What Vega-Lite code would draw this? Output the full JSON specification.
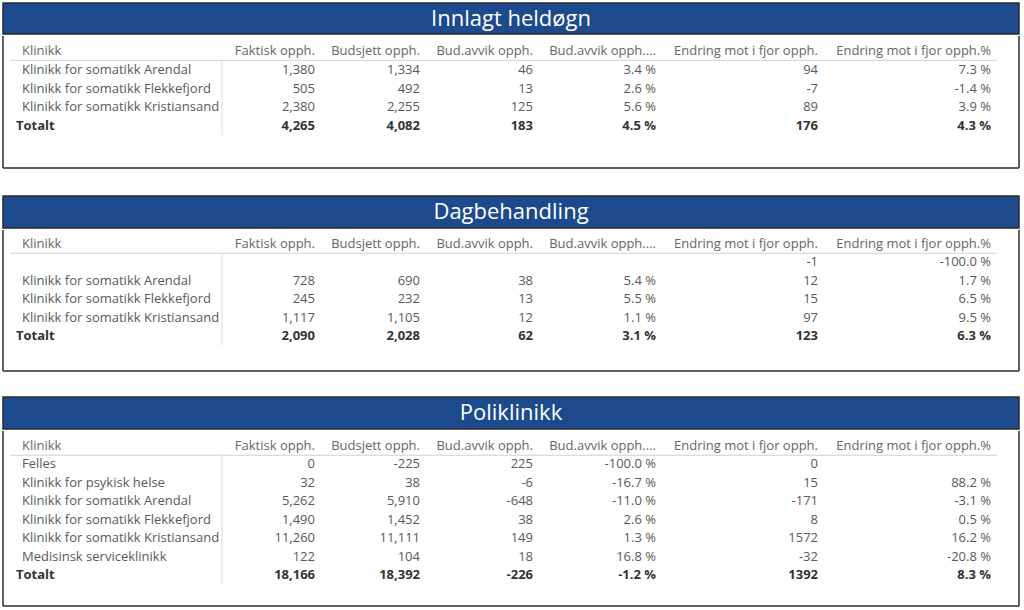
{
"$schema": "https://vega.github.io/schema/vega-lite/v6.json",
"padding": {"top": 2, "left": 2, "right": 0, "bottom": 0},
"background": "white",
"spacing": 26,
"config": {
  "view": {"stroke": null},
  "concat": {"spacing": 0},
  "text": {"font": "Open Sans", "fontSize": 13, "baseline": "middle"},
  "locale": {"number": {"decimal": ".", "thousands": ",", "grouping": [3], "currency": ["", " %"], "minus": "-"}}
},
"datasets": {
  "innlagt": [
    {"klinikk": "Klinikk for somatikk Arendal", "faktisk": 1380, "budsjett": 1334, "avvik": 46, "avvikPst": 3.4, "endring": 94, "endringPst": 7.3},
    {"klinikk": "Klinikk for somatikk Flekkefjord", "faktisk": 505, "budsjett": 492, "avvik": 13, "avvikPst": 2.6, "endring": -7, "endringPst": -1.4},
    {"klinikk": "Klinikk for somatikk Kristiansand", "faktisk": 2380, "budsjett": 2255, "avvik": 125, "avvikPst": 5.6, "endring": 89, "endringPst": 3.9},
    {"klinikk": "Totalt", "faktisk": 4265, "budsjett": 4082, "avvik": 183, "avvikPst": 4.5, "endring": 176, "endringPst": 4.3}
  ],
  "dag": [
    {"klinikk": "", "faktisk": null, "budsjett": null, "avvik": null, "avvikPst": null, "endring": -1, "endringPst": -100.0},
    {"klinikk": "Klinikk for somatikk Arendal", "faktisk": 728, "budsjett": 690, "avvik": 38, "avvikPst": 5.4, "endring": 12, "endringPst": 1.7},
    {"klinikk": "Klinikk for somatikk Flekkefjord", "faktisk": 245, "budsjett": 232, "avvik": 13, "avvikPst": 5.5, "endring": 15, "endringPst": 6.5},
    {"klinikk": "Klinikk for somatikk Kristiansand", "faktisk": 1117, "budsjett": 1105, "avvik": 12, "avvikPst": 1.1, "endring": 97, "endringPst": 9.5},
    {"klinikk": "Totalt", "faktisk": 2090, "budsjett": 2028, "avvik": 62, "avvikPst": 3.1, "endring": 123, "endringPst": 6.3}
  ],
  "poli": [
    {"klinikk": "Felles", "faktisk": 0, "budsjett": -225, "avvik": 225, "avvikPst": -100.0, "endring": 0, "endringPst": null},
    {"klinikk": "Klinikk for psykisk helse", "faktisk": 32, "budsjett": 38, "avvik": -6, "avvikPst": -16.7, "endring": 15, "endringPst": 88.2},
    {"klinikk": "Klinikk for somatikk Arendal", "faktisk": 5262, "budsjett": 5910, "avvik": -648, "avvikPst": -11.0, "endring": -171, "endringPst": -3.1},
    {"klinikk": "Klinikk for somatikk Flekkefjord", "faktisk": 1490, "budsjett": 1452, "avvik": 38, "avvikPst": 2.6, "endring": 8, "endringPst": 0.5},
    {"klinikk": "Klinikk for somatikk Kristiansand", "faktisk": 11260, "budsjett": 11111, "avvik": 149, "avvikPst": 1.3, "endring": 1572, "endringPst": 16.2},
    {"klinikk": "Medisinsk serviceklinikk", "faktisk": 122, "budsjett": 104, "avvik": 18, "avvikPst": 16.8, "endring": -32, "endringPst": -20.8},
    {"klinikk": "Totalt", "faktisk": 18166, "budsjett": 18392, "avvik": -226, "avvikPst": -1.2, "endring": 1392, "endringPst": 8.3}
  ]
},
"vconcat": [
{
  "spacing": 0,
  "vconcat": [
    {"width": 1016, "height": 31, "view": {"fill": "#1d4a8c", "stroke": "#2b2b2b", "strokeWidth": 1.5},
     "data": {"values": [{"tittel": "Innlagt heldøgn"}]},
     "mark": {"type": "text", "color": "white", "fontSize": 22},
     "encoding": {"text": {"field": "tittel"}}},
    {"spacing": 0, "bounds": "flush", "hconcat": [
      {"width": 7, "height": 132, "layer": [
        {"data": {"values": [{}]}, "mark": {"type": "rule", "color": "#2b2b2b", "strokeWidth": 1.5}, "encoding": {"x": {"value": 0}, "y": {"value": 0}, "y2": {"value": "height"}}},
        {"data": {"values": [{}]}, "mark": {"type": "rule", "color": "#2b2b2b", "strokeWidth": 1.5}, "encoding": {"y": {"value": "height"}}}
      ]},
      {"width": 212, "height": 132, "layer": [
        {"data": {"values": [{"kolonne": "Klinikk"}]}, "mark": {"type": "text", "align": "left", "dx": 12, "color": "#666666"},
         "encoding": {"x": {"value": 0}, "y": {"datum": "hdr", "type": "nominal", "scale": {"domain": ["hdr","Klinikk for somatikk Arendal","Klinikk for somatikk Flekkefjord","Klinikk for somatikk Kristiansand","Totalt"], "range": [5.6, 99.4], "paddingInner": 0, "paddingOuter": 0}, "axis": null}, "text": {"field": "kolonne"}}},
        {"data": {"name": "innlagt"}, "transform": [{"filter": "datum.klinikk !== 'Totalt'"}], "mark": {"type": "text", "align": "left", "dx": 12, "color": "#595959"},
         "encoding": {"x": {"value": 0}, "y": {"field": "klinikk", "type": "nominal", "scale": {"domain": ["hdr","Klinikk for somatikk Arendal","Klinikk for somatikk Flekkefjord","Klinikk for somatikk Kristiansand","Totalt"], "range": [5.6, 99.4], "paddingInner": 0, "paddingOuter": 0}, "axis": null}, "text": {"field": "klinikk"}}},
        {"data": {"name": "innlagt"}, "transform": [{"filter": "datum.klinikk === 'Totalt'"}], "mark": {"type": "text", "align": "left", "dx": 6, "fontWeight": "bold", "color": "#333333"},
         "encoding": {"x": {"value": 0}, "y": {"field": "klinikk", "type": "nominal", "scale": {"domain": ["hdr","Klinikk for somatikk Arendal","Klinikk for somatikk Flekkefjord","Klinikk for somatikk Kristiansand","Totalt"], "range": [5.6, 99.4], "paddingInner": 0, "paddingOuter": 0}, "axis": null}, "text": {"field": "klinikk"}}},
        {"data": {"values": [{}]}, "mark": {"type": "rule", "color": "#d0d0d0"},
         "encoding": {"y": {"datum": "hdr", "type": "nominal", "bandPosition": 1, "scale": {"domain": ["hdr","Klinikk for somatikk Arendal","Klinikk for somatikk Flekkefjord","Klinikk for somatikk Kristiansand","Totalt"], "range": [5.6, 99.4], "paddingInner": 0, "paddingOuter": 0}, "axis": null}}},
        {"data": {"values": [{}]}, "mark": {"type": "rule", "color": "#dcdcdc"},
         "encoding": {"x": {"value": "width"}, "y": {"datum": "hdr", "type": "nominal", "bandPosition": 1, "scale": {"domain": ["hdr","Klinikk for somatikk Arendal","Klinikk for somatikk Flekkefjord","Klinikk for somatikk Kristiansand","Totalt"], "range": [5.6, 99.4], "paddingInner": 0, "paddingOuter": 0}, "axis": null}, "y2": {"datum": "Totalt", "bandPosition": 1}}},
        {"data": {"values": [{}]}, "mark": {"type": "rule", "color": "#2b2b2b", "strokeWidth": 1.5}, "encoding": {"y": {"value": "height"}}}
      ]},
      {"width": 93, "height": 132, "layer": [
        {"data": {"values": [{"kolonne": "Faktisk opph."}]}, "mark": {"type": "text", "align": "right", "color": "#666666"},
         "encoding": {"x": {"value": "width"}, "y": {"datum": "hdr", "type": "nominal", "scale": {"domain": ["hdr","Klinikk for somatikk Arendal","Klinikk for somatikk Flekkefjord","Klinikk for somatikk Kristiansand","Totalt"], "range": [5.6, 99.4], "paddingInner": 0, "paddingOuter": 0}, "axis": null}, "text": {"field": "kolonne"}}},
        {"data": {"name": "innlagt"}, "transform": [{"filter": "isValid(datum.faktisk) && datum.klinikk !== 'Totalt'"}], "mark": {"type": "text", "align": "right", "color": "#595959"},
         "encoding": {"x": {"value": "width"}, "y": {"field": "klinikk", "type": "nominal", "scale": {"domain": ["hdr","Klinikk for somatikk Arendal","Klinikk for somatikk Flekkefjord","Klinikk for somatikk Kristiansand","Totalt"], "range": [5.6, 99.4], "paddingInner": 0, "paddingOuter": 0}, "axis": null}, "text": {"field": "faktisk", "format": ",d"}}},
        {"data": {"name": "innlagt"}, "transform": [{"filter": "isValid(datum.faktisk) && datum.klinikk === 'Totalt'"}], "mark": {"type": "text", "align": "right", "fontWeight": "bold", "color": "#333333"},
         "encoding": {"x": {"value": "width"}, "y": {"field": "klinikk", "type": "nominal", "scale": {"domain": ["hdr","Klinikk for somatikk Arendal","Klinikk for somatikk Flekkefjord","Klinikk for somatikk Kristiansand","Totalt"], "range": [5.6, 99.4], "paddingInner": 0, "paddingOuter": 0}, "axis": null}, "text": {"field": "faktisk", "format": ",d"}}},
        {"data": {"values": [{}]}, "mark": {"type": "rule", "color": "#d0d0d0"},
         "encoding": {"y": {"datum": "hdr", "type": "nominal", "bandPosition": 1, "scale": {"domain": ["hdr","Klinikk for somatikk Arendal","Klinikk for somatikk Flekkefjord","Klinikk for somatikk Kristiansand","Totalt"], "range": [5.6, 99.4], "paddingInner": 0, "paddingOuter": 0}, "axis": null}}},
        {"data": {"values": [{}]}, "mark": {"type": "rule", "color": "#2b2b2b", "strokeWidth": 1.5}, "encoding": {"y": {"value": "height"}}}
      ]},
      {"width": 105, "height": 132, "layer": [
        {"data": {"values": [{"kolonne": "Budsjett opph."}]}, "mark": {"type": "text", "align": "right", "color": "#666666"},
         "encoding": {"x": {"value": "width"}, "y": {"datum": "hdr", "type": "nominal", "scale": {"domain": ["hdr","Klinikk for somatikk Arendal","Klinikk for somatikk Flekkefjord","Klinikk for somatikk Kristiansand","Totalt"], "range": [5.6, 99.4], "paddingInner": 0, "paddingOuter": 0}, "axis": null}, "text": {"field": "kolonne"}}},
        {"data": {"name": "innlagt"}, "transform": [{"filter": "isValid(datum.budsjett) && datum.klinikk !== 'Totalt'"}], "mark": {"type": "text", "align": "right", "color": "#595959"},
         "encoding": {"x": {"value": "width"}, "y": {"field": "klinikk", "type": "nominal", "scale": {"domain": ["hdr","Klinikk for somatikk Arendal","Klinikk for somatikk Flekkefjord","Klinikk for somatikk Kristiansand","Totalt"], "range": [5.6, 99.4], "paddingInner": 0, "paddingOuter": 0}, "axis": null}, "text": {"field": "budsjett", "format": ",d"}}},
        {"data": {"name": "innlagt"}, "transform": [{"filter": "isValid(datum.budsjett) && datum.klinikk === 'Totalt'"}], "mark": {"type": "text", "align": "right", "fontWeight": "bold", "color": "#333333"},
         "encoding": {"x": {"value": "width"}, "y": {"field": "klinikk", "type": "nominal", "scale": {"domain": ["hdr","Klinikk for somatikk Arendal","Klinikk for somatikk Flekkefjord","Klinikk for somatikk Kristiansand","Totalt"], "range": [5.6, 99.4], "paddingInner": 0, "paddingOuter": 0}, "axis": null}, "text": {"field": "budsjett", "format": ",d"}}},
        {"data": {"values": [{}]}, "mark": {"type": "rule", "color": "#d0d0d0"},
         "encoding": {"y": {"datum": "hdr", "type": "nominal", "bandPosition": 1, "scale": {"domain": ["hdr","Klinikk for somatikk Arendal","Klinikk for somatikk Flekkefjord","Klinikk for somatikk Kristiansand","Totalt"], "range": [5.6, 99.4], "paddingInner": 0, "paddingOuter": 0}, "axis": null}}},
        {"data": {"values": [{}]}, "mark": {"type": "rule", "color": "#2b2b2b", "strokeWidth": 1.5}, "encoding": {"y": {"value": "height"}}}
      ]},
      {"width": 113, "height": 132, "layer": [
        {"data": {"values": [{"kolonne": "Bud.avvik opph."}]}, "mark": {"type": "text", "align": "right", "color": "#666666"},
         "encoding": {"x": {"value": "width"}, "y": {"datum": "hdr", "type": "nominal", "scale": {"domain": ["hdr","Klinikk for somatikk Arendal","Klinikk for somatikk Flekkefjord","Klinikk for somatikk Kristiansand","Totalt"], "range": [5.6, 99.4], "paddingInner": 0, "paddingOuter": 0}, "axis": null}, "text": {"field": "kolonne"}}},
        {"data": {"name": "innlagt"}, "transform": [{"filter": "isValid(datum.avvik) && datum.klinikk !== 'Totalt'"}], "mark": {"type": "text", "align": "right", "color": "#595959"},
         "encoding": {"x": {"value": "width"}, "y": {"field": "klinikk", "type": "nominal", "scale": {"domain": ["hdr","Klinikk for somatikk Arendal","Klinikk for somatikk Flekkefjord","Klinikk for somatikk Kristiansand","Totalt"], "range": [5.6, 99.4], "paddingInner": 0, "paddingOuter": 0}, "axis": null}, "text": {"field": "avvik", "format": ",d"}}},
        {"data": {"name": "innlagt"}, "transform": [{"filter": "isValid(datum.avvik) && datum.klinikk === 'Totalt'"}], "mark": {"type": "text", "align": "right", "fontWeight": "bold", "color": "#333333"},
         "encoding": {"x": {"value": "width"}, "y": {"field": "klinikk", "type": "nominal", "scale": {"domain": ["hdr","Klinikk for somatikk Arendal","Klinikk for somatikk Flekkefjord","Klinikk for somatikk Kristiansand","Totalt"], "range": [5.6, 99.4], "paddingInner": 0, "paddingOuter": 0}, "axis": null}, "text": {"field": "avvik", "format": ",d"}}},
        {"data": {"values": [{}]}, "mark": {"type": "rule", "color": "#d0d0d0"},
         "encoding": {"y": {"datum": "hdr", "type": "nominal", "bandPosition": 1, "scale": {"domain": ["hdr","Klinikk for somatikk Arendal","Klinikk for somatikk Flekkefjord","Klinikk for somatikk Kristiansand","Totalt"], "range": [5.6, 99.4], "paddingInner": 0, "paddingOuter": 0}, "axis": null}}},
        {"data": {"values": [{}]}, "mark": {"type": "rule", "color": "#2b2b2b", "strokeWidth": 1.5}, "encoding": {"y": {"value": "height"}}}
      ]},
      {"width": 123, "height": 132, "layer": [
        {"data": {"values": [{"kolonne": "Bud.avvik opph...."}]}, "mark": {"type": "text", "align": "right", "color": "#666666"},
         "encoding": {"x": {"value": "width"}, "y": {"datum": "hdr", "type": "nominal", "scale": {"domain": ["hdr","Klinikk for somatikk Arendal","Klinikk for somatikk Flekkefjord","Klinikk for somatikk Kristiansand","Totalt"], "range": [5.6, 99.4], "paddingInner": 0, "paddingOuter": 0}, "axis": null}, "text": {"field": "kolonne"}}},
        {"data": {"name": "innlagt"}, "transform": [{"filter": "isValid(datum.avvikPst) && datum.klinikk !== 'Totalt'"}], "mark": {"type": "text", "align": "right", "color": "#595959"},
         "encoding": {"x": {"value": "width"}, "y": {"field": "klinikk", "type": "nominal", "scale": {"domain": ["hdr","Klinikk for somatikk Arendal","Klinikk for somatikk Flekkefjord","Klinikk for somatikk Kristiansand","Totalt"], "range": [5.6, 99.4], "paddingInner": 0, "paddingOuter": 0}, "axis": null}, "text": {"field": "avvikPst", "format": "$.1f"}}},
        {"data": {"name": "innlagt"}, "transform": [{"filter": "isValid(datum.avvikPst) && datum.klinikk === 'Totalt'"}], "mark": {"type": "text", "align": "right", "fontWeight": "bold", "color": "#333333"},
         "encoding": {"x": {"value": "width"}, "y": {"field": "klinikk", "type": "nominal", "scale": {"domain": ["hdr","Klinikk for somatikk Arendal","Klinikk for somatikk Flekkefjord","Klinikk for somatikk Kristiansand","Totalt"], "range": [5.6, 99.4], "paddingInner": 0, "paddingOuter": 0}, "axis": null}, "text": {"field": "avvikPst", "format": "$.1f"}}},
        {"data": {"values": [{}]}, "mark": {"type": "rule", "color": "#d0d0d0"},
         "encoding": {"y": {"datum": "hdr", "type": "nominal", "bandPosition": 1, "scale": {"domain": ["hdr","Klinikk for somatikk Arendal","Klinikk for somatikk Flekkefjord","Klinikk for somatikk Kristiansand","Totalt"], "range": [5.6, 99.4], "paddingInner": 0, "paddingOuter": 0}, "axis": null}}},
        {"data": {"values": [{}]}, "mark": {"type": "rule", "color": "#2b2b2b", "strokeWidth": 1.5}, "encoding": {"y": {"value": "height"}}}
      ]},
      {"width": 162, "height": 132, "layer": [
        {"data": {"values": [{"kolonne": "Endring mot i fjor opph."}]}, "mark": {"type": "text", "align": "right", "color": "#666666"},
         "encoding": {"x": {"value": "width"}, "y": {"datum": "hdr", "type": "nominal", "scale": {"domain": ["hdr","Klinikk for somatikk Arendal","Klinikk for somatikk Flekkefjord","Klinikk for somatikk Kristiansand","Totalt"], "range": [5.6, 99.4], "paddingInner": 0, "paddingOuter": 0}, "axis": null}, "text": {"field": "kolonne"}}},
        {"data": {"name": "innlagt"}, "transform": [{"filter": "isValid(datum.endring) && datum.klinikk !== 'Totalt'"}], "mark": {"type": "text", "align": "right", "color": "#595959"},
         "encoding": {"x": {"value": "width"}, "y": {"field": "klinikk", "type": "nominal", "scale": {"domain": ["hdr","Klinikk for somatikk Arendal","Klinikk for somatikk Flekkefjord","Klinikk for somatikk Kristiansand","Totalt"], "range": [5.6, 99.4], "paddingInner": 0, "paddingOuter": 0}, "axis": null}, "text": {"field": "endring", "format": "d"}}},
        {"data": {"name": "innlagt"}, "transform": [{"filter": "isValid(datum.endring) && datum.klinikk === 'Totalt'"}], "mark": {"type": "text", "align": "right", "fontWeight": "bold", "color": "#333333"},
         "encoding": {"x": {"value": "width"}, "y": {"field": "klinikk", "type": "nominal", "scale": {"domain": ["hdr","Klinikk for somatikk Arendal","Klinikk for somatikk Flekkefjord","Klinikk for somatikk Kristiansand","Totalt"], "range": [5.6, 99.4], "paddingInner": 0, "paddingOuter": 0}, "axis": null}, "text": {"field": "endring", "format": "d"}}},
        {"data": {"values": [{}]}, "mark": {"type": "rule", "color": "#d0d0d0"},
         "encoding": {"y": {"datum": "hdr", "type": "nominal", "bandPosition": 1, "scale": {"domain": ["hdr","Klinikk for somatikk Arendal","Klinikk for somatikk Flekkefjord","Klinikk for somatikk Kristiansand","Totalt"], "range": [5.6, 99.4], "paddingInner": 0, "paddingOuter": 0}, "axis": null}}},
        {"data": {"values": [{}]}, "mark": {"type": "rule", "color": "#2b2b2b", "strokeWidth": 1.5}, "encoding": {"y": {"value": "height"}}}
      ]},
      {"width": 173, "height": 132, "layer": [
        {"data": {"values": [{"kolonne": "Endring mot i fjor opph.%"}]}, "mark": {"type": "text", "align": "right", "color": "#666666"},
         "encoding": {"x": {"value": "width"}, "y": {"datum": "hdr", "type": "nominal", "scale": {"domain": ["hdr","Klinikk for somatikk Arendal","Klinikk for somatikk Flekkefjord","Klinikk for somatikk Kristiansand","Totalt"], "range": [5.6, 99.4], "paddingInner": 0, "paddingOuter": 0}, "axis": null}, "text": {"field": "kolonne"}}},
        {"data": {"name": "innlagt"}, "transform": [{"filter": "isValid(datum.endringPst) && datum.klinikk !== 'Totalt'"}], "mark": {"type": "text", "align": "right", "color": "#595959"},
         "encoding": {"x": {"value": "width"}, "y": {"field": "klinikk", "type": "nominal", "scale": {"domain": ["hdr","Klinikk for somatikk Arendal","Klinikk for somatikk Flekkefjord","Klinikk for somatikk Kristiansand","Totalt"], "range": [5.6, 99.4], "paddingInner": 0, "paddingOuter": 0}, "axis": null}, "text": {"field": "endringPst", "format": "$.1f"}}},
        {"data": {"name": "innlagt"}, "transform": [{"filter": "isValid(datum.endringPst) && datum.klinikk === 'Totalt'"}], "mark": {"type": "text", "align": "right", "fontWeight": "bold", "color": "#333333"},
         "encoding": {"x": {"value": "width"}, "y": {"field": "klinikk", "type": "nominal", "scale": {"domain": ["hdr","Klinikk for somatikk Arendal","Klinikk for somatikk Flekkefjord","Klinikk for somatikk Kristiansand","Totalt"], "range": [5.6, 99.4], "paddingInner": 0, "paddingOuter": 0}, "axis": null}, "text": {"field": "endringPst", "format": "$.1f"}}},
        {"data": {"values": [{}]}, "mark": {"type": "rule", "color": "#d0d0d0"},
         "encoding": {"y": {"datum": "hdr", "type": "nominal", "bandPosition": 1, "scale": {"domain": ["hdr","Klinikk for somatikk Arendal","Klinikk for somatikk Flekkefjord","Klinikk for somatikk Kristiansand","Totalt"], "range": [5.6, 99.4], "paddingInner": 0, "paddingOuter": 0}, "axis": null}}},
        {"data": {"values": [{}]}, "mark": {"type": "rule", "color": "#2b2b2b", "strokeWidth": 1.5}, "encoding": {"y": {"value": "height"}}}
      ]},
      {"width": 6, "height": 132, "layer": [
        {"data": {"values": [{}]}, "mark": {"type": "rule", "color": "#d0d0d0"},
         "encoding": {"y": {"datum": "hdr", "type": "nominal", "bandPosition": 1, "scale": {"domain": ["hdr","Klinikk for somatikk Arendal","Klinikk for somatikk Flekkefjord","Klinikk for somatikk Kristiansand","Totalt"], "range": [5.6, 99.4], "paddingInner": 0, "paddingOuter": 0}, "axis": null}}},
        {"data": {"values": [{}]}, "mark": {"type": "rule", "color": "#2b2b2b", "strokeWidth": 1.5}, "encoding": {"y": {"value": "height"}}}
      ]},
      {"width": 22, "height": 132, "layer": [
        {"data": {"values": [{}]}, "mark": {"type": "rule", "color": "#2b2b2b", "strokeWidth": 1.5}, "encoding": {"y": {"value": "height"}}},
        {"data": {"values": [{}]}, "mark": {"type": "rule", "color": "#2b2b2b", "strokeWidth": 1.5}, "encoding": {"x": {"value": "width"}, "y": {"value": 0}, "y2": {"value": "height"}}}
      ]}
    ]}
  ]
},
{
 "spacing": 24,
 "vconcat": [
{
  "spacing": 0,
  "vconcat": [
    {"width": 1016, "height": 32, "view": {"fill": "#1d4a8c", "stroke": "#2b2b2b", "strokeWidth": 1.5},
     "data": {"values": [{"tittel": "Dagbehandling"}]},
     "mark": {"type": "text", "color": "white", "fontSize": 22},
     "encoding": {"text": {"field": "tittel"}}},
    {"spacing": 0, "bounds": "flush", "hconcat": [
      {"width": 7, "height": 141, "layer": [
        {"data": {"values": [{}]}, "mark": {"type": "rule", "color": "#2b2b2b", "strokeWidth": 1.5}, "encoding": {"x": {"value": 0}, "y": {"value": 0}, "y2": {"value": "height"}}},
        {"data": {"values": [{}]}, "mark": {"type": "rule", "color": "#2b2b2b", "strokeWidth": 1.5}, "encoding": {"y": {"value": "height"}}}
      ]},
      {"width": 212, "height": 141, "layer": [
        {"data": {"values": [{"kolonne": "Klinikk"}]}, "mark": {"type": "text", "align": "left", "dx": 12, "color": "#666666"},
         "encoding": {"x": {"value": 0}, "y": {"datum": "hdr", "type": "nominal", "scale": {"domain": ["hdr","","Klinikk for somatikk Arendal","Klinikk for somatikk Flekkefjord","Klinikk for somatikk Kristiansand","Totalt"], "range": [4.8, 115.2], "paddingInner": 0, "paddingOuter": 0}, "axis": null}, "text": {"field": "kolonne"}}},
        {"data": {"name": "dag"}, "transform": [{"filter": "datum.klinikk !== 'Totalt'"}], "mark": {"type": "text", "align": "left", "dx": 12, "color": "#595959"},
         "encoding": {"x": {"value": 0}, "y": {"field": "klinikk", "type": "nominal", "scale": {"domain": ["hdr","","Klinikk for somatikk Arendal","Klinikk for somatikk Flekkefjord","Klinikk for somatikk Kristiansand","Totalt"], "range": [4.8, 115.2], "paddingInner": 0, "paddingOuter": 0}, "axis": null}, "text": {"field": "klinikk"}}},
        {"data": {"name": "dag"}, "transform": [{"filter": "datum.klinikk === 'Totalt'"}], "mark": {"type": "text", "align": "left", "dx": 6, "fontWeight": "bold", "color": "#333333"},
         "encoding": {"x": {"value": 0}, "y": {"field": "klinikk", "type": "nominal", "scale": {"domain": ["hdr","","Klinikk for somatikk Arendal","Klinikk for somatikk Flekkefjord","Klinikk for somatikk Kristiansand","Totalt"], "range": [4.8, 115.2], "paddingInner": 0, "paddingOuter": 0}, "axis": null}, "text": {"field": "klinikk"}}},
        {"data": {"values": [{}]}, "mark": {"type": "rule", "color": "#d0d0d0"},
         "encoding": {"y": {"datum": "hdr", "type": "nominal", "bandPosition": 1, "scale": {"domain": ["hdr","","Klinikk for somatikk Arendal","Klinikk for somatikk Flekkefjord","Klinikk for somatikk Kristiansand","Totalt"], "range": [4.8, 115.2], "paddingInner": 0, "paddingOuter": 0}, "axis": null}}},
        {"data": {"values": [{}]}, "mark": {"type": "rule", "color": "#dcdcdc"},
         "encoding": {"x": {"value": "width"}, "y": {"datum": "hdr", "type": "nominal", "bandPosition": 1, "scale": {"domain": ["hdr","","Klinikk for somatikk Arendal","Klinikk for somatikk Flekkefjord","Klinikk for somatikk Kristiansand","Totalt"], "range": [4.8, 115.2], "paddingInner": 0, "paddingOuter": 0}, "axis": null}, "y2": {"datum": "Totalt", "bandPosition": 1}}},
        {"data": {"values": [{}]}, "mark": {"type": "rule", "color": "#2b2b2b", "strokeWidth": 1.5}, "encoding": {"y": {"value": "height"}}}
      ]},
      {"width": 93, "height": 141, "layer": [
        {"data": {"values": [{"kolonne": "Faktisk opph."}]}, "mark": {"type": "text", "align": "right", "color": "#666666"},
         "encoding": {"x": {"value": "width"}, "y": {"datum": "hdr", "type": "nominal", "scale": {"domain": ["hdr","","Klinikk for somatikk Arendal","Klinikk for somatikk Flekkefjord","Klinikk for somatikk Kristiansand","Totalt"], "range": [4.8, 115.2], "paddingInner": 0, "paddingOuter": 0}, "axis": null}, "text": {"field": "kolonne"}}},
        {"data": {"name": "dag"}, "transform": [{"filter": "isValid(datum.faktisk) && datum.klinikk !== 'Totalt'"}], "mark": {"type": "text", "align": "right", "color": "#595959"},
         "encoding": {"x": {"value": "width"}, "y": {"field": "klinikk", "type": "nominal", "scale": {"domain": ["hdr","","Klinikk for somatikk Arendal","Klinikk for somatikk Flekkefjord","Klinikk for somatikk Kristiansand","Totalt"], "range": [4.8, 115.2], "paddingInner": 0, "paddingOuter": 0}, "axis": null}, "text": {"field": "faktisk", "format": ",d"}}},
        {"data": {"name": "dag"}, "transform": [{"filter": "isValid(datum.faktisk) && datum.klinikk === 'Totalt'"}], "mark": {"type": "text", "align": "right", "fontWeight": "bold", "color": "#333333"},
         "encoding": {"x": {"value": "width"}, "y": {"field": "klinikk", "type": "nominal", "scale": {"domain": ["hdr","","Klinikk for somatikk Arendal","Klinikk for somatikk Flekkefjord","Klinikk for somatikk Kristiansand","Totalt"], "range": [4.8, 115.2], "paddingInner": 0, "paddingOuter": 0}, "axis": null}, "text": {"field": "faktisk", "format": ",d"}}},
        {"data": {"values": [{}]}, "mark": {"type": "rule", "color": "#d0d0d0"},
         "encoding": {"y": {"datum": "hdr", "type": "nominal", "bandPosition": 1, "scale": {"domain": ["hdr","","Klinikk for somatikk Arendal","Klinikk for somatikk Flekkefjord","Klinikk for somatikk Kristiansand","Totalt"], "range": [4.8, 115.2], "paddingInner": 0, "paddingOuter": 0}, "axis": null}}},
        {"data": {"values": [{}]}, "mark": {"type": "rule", "color": "#2b2b2b", "strokeWidth": 1.5}, "encoding": {"y": {"value": "height"}}}
      ]},
      {"width": 105, "height": 141, "layer": [
        {"data": {"values": [{"kolonne": "Budsjett opph."}]}, "mark": {"type": "text", "align": "right", "color": "#666666"},
         "encoding": {"x": {"value": "width"}, "y": {"datum": "hdr", "type": "nominal", "scale": {"domain": ["hdr","","Klinikk for somatikk Arendal","Klinikk for somatikk Flekkefjord","Klinikk for somatikk Kristiansand","Totalt"], "range": [4.8, 115.2], "paddingInner": 0, "paddingOuter": 0}, "axis": null}, "text": {"field": "kolonne"}}},
        {"data": {"name": "dag"}, "transform": [{"filter": "isValid(datum.budsjett) && datum.klinikk !== 'Totalt'"}], "mark": {"type": "text", "align": "right", "color": "#595959"},
         "encoding": {"x": {"value": "width"}, "y": {"field": "klinikk", "type": "nominal", "scale": {"domain": ["hdr","","Klinikk for somatikk Arendal","Klinikk for somatikk Flekkefjord","Klinikk for somatikk Kristiansand","Totalt"], "range": [4.8, 115.2], "paddingInner": 0, "paddingOuter": 0}, "axis": null}, "text": {"field": "budsjett", "format": ",d"}}},
        {"data": {"name": "dag"}, "transform": [{"filter": "isValid(datum.budsjett) && datum.klinikk === 'Totalt'"}], "mark": {"type": "text", "align": "right", "fontWeight": "bold", "color": "#333333"},
         "encoding": {"x": {"value": "width"}, "y": {"field": "klinikk", "type": "nominal", "scale": {"domain": ["hdr","","Klinikk for somatikk Arendal","Klinikk for somatikk Flekkefjord","Klinikk for somatikk Kristiansand","Totalt"], "range": [4.8, 115.2], "paddingInner": 0, "paddingOuter": 0}, "axis": null}, "text": {"field": "budsjett", "format": ",d"}}},
        {"data": {"values": [{}]}, "mark": {"type": "rule", "color": "#d0d0d0"},
         "encoding": {"y": {"datum": "hdr", "type": "nominal", "bandPosition": 1, "scale": {"domain": ["hdr","","Klinikk for somatikk Arendal","Klinikk for somatikk Flekkefjord","Klinikk for somatikk Kristiansand","Totalt"], "range": [4.8, 115.2], "paddingInner": 0, "paddingOuter": 0}, "axis": null}}},
        {"data": {"values": [{}]}, "mark": {"type": "rule", "color": "#2b2b2b", "strokeWidth": 1.5}, "encoding": {"y": {"value": "height"}}}
      ]},
      {"width": 113, "height": 141, "layer": [
        {"data": {"values": [{"kolonne": "Bud.avvik opph."}]}, "mark": {"type": "text", "align": "right", "color": "#666666"},
         "encoding": {"x": {"value": "width"}, "y": {"datum": "hdr", "type": "nominal", "scale": {"domain": ["hdr","","Klinikk for somatikk Arendal","Klinikk for somatikk Flekkefjord","Klinikk for somatikk Kristiansand","Totalt"], "range": [4.8, 115.2], "paddingInner": 0, "paddingOuter": 0}, "axis": null}, "text": {"field": "kolonne"}}},
        {"data": {"name": "dag"}, "transform": [{"filter": "isValid(datum.avvik) && datum.klinikk !== 'Totalt'"}], "mark": {"type": "text", "align": "right", "color": "#595959"},
         "encoding": {"x": {"value": "width"}, "y": {"field": "klinikk", "type": "nominal", "scale": {"domain": ["hdr","","Klinikk for somatikk Arendal","Klinikk for somatikk Flekkefjord","Klinikk for somatikk Kristiansand","Totalt"], "range": [4.8, 115.2], "paddingInner": 0, "paddingOuter": 0}, "axis": null}, "text": {"field": "avvik", "format": ",d"}}},
        {"data": {"name": "dag"}, "transform": [{"filter": "isValid(datum.avvik) && datum.klinikk === 'Totalt'"}], "mark": {"type": "text", "align": "right", "fontWeight": "bold", "color": "#333333"},
         "encoding": {"x": {"value": "width"}, "y": {"field": "klinikk", "type": "nominal", "scale": {"domain": ["hdr","","Klinikk for somatikk Arendal","Klinikk for somatikk Flekkefjord","Klinikk for somatikk Kristiansand","Totalt"], "range": [4.8, 115.2], "paddingInner": 0, "paddingOuter": 0}, "axis": null}, "text": {"field": "avvik", "format": ",d"}}},
        {"data": {"values": [{}]}, "mark": {"type": "rule", "color": "#d0d0d0"},
         "encoding": {"y": {"datum": "hdr", "type": "nominal", "bandPosition": 1, "scale": {"domain": ["hdr","","Klinikk for somatikk Arendal","Klinikk for somatikk Flekkefjord","Klinikk for somatikk Kristiansand","Totalt"], "range": [4.8, 115.2], "paddingInner": 0, "paddingOuter": 0}, "axis": null}}},
        {"data": {"values": [{}]}, "mark": {"type": "rule", "color": "#2b2b2b", "strokeWidth": 1.5}, "encoding": {"y": {"value": "height"}}}
      ]},
      {"width": 123, "height": 141, "layer": [
        {"data": {"values": [{"kolonne": "Bud.avvik opph...."}]}, "mark": {"type": "text", "align": "right", "color": "#666666"},
         "encoding": {"x": {"value": "width"}, "y": {"datum": "hdr", "type": "nominal", "scale": {"domain": ["hdr","","Klinikk for somatikk Arendal","Klinikk for somatikk Flekkefjord","Klinikk for somatikk Kristiansand","Totalt"], "range": [4.8, 115.2], "paddingInner": 0, "paddingOuter": 0}, "axis": null}, "text": {"field": "kolonne"}}},
        {"data": {"name": "dag"}, "transform": [{"filter": "isValid(datum.avvikPst) && datum.klinikk !== 'Totalt'"}], "mark": {"type": "text", "align": "right", "color": "#595959"},
         "encoding": {"x": {"value": "width"}, "y": {"field": "klinikk", "type": "nominal", "scale": {"domain": ["hdr","","Klinikk for somatikk Arendal","Klinikk for somatikk Flekkefjord","Klinikk for somatikk Kristiansand","Totalt"], "range": [4.8, 115.2], "paddingInner": 0, "paddingOuter": 0}, "axis": null}, "text": {"field": "avvikPst", "format": "$.1f"}}},
        {"data": {"name": "dag"}, "transform": [{"filter": "isValid(datum.avvikPst) && datum.klinikk === 'Totalt'"}], "mark": {"type": "text", "align": "right", "fontWeight": "bold", "color": "#333333"},
         "encoding": {"x": {"value": "width"}, "y": {"field": "klinikk", "type": "nominal", "scale": {"domain": ["hdr","","Klinikk for somatikk Arendal","Klinikk for somatikk Flekkefjord","Klinikk for somatikk Kristiansand","Totalt"], "range": [4.8, 115.2], "paddingInner": 0, "paddingOuter": 0}, "axis": null}, "text": {"field": "avvikPst", "format": "$.1f"}}},
        {"data": {"values": [{}]}, "mark": {"type": "rule", "color": "#d0d0d0"},
         "encoding": {"y": {"datum": "hdr", "type": "nominal", "bandPosition": 1, "scale": {"domain": ["hdr","","Klinikk for somatikk Arendal","Klinikk for somatikk Flekkefjord","Klinikk for somatikk Kristiansand","Totalt"], "range": [4.8, 115.2], "paddingInner": 0, "paddingOuter": 0}, "axis": null}}},
        {"data": {"values": [{}]}, "mark": {"type": "rule", "color": "#2b2b2b", "strokeWidth": 1.5}, "encoding": {"y": {"value": "height"}}}
      ]},
      {"width": 162, "height": 141, "layer": [
        {"data": {"values": [{"kolonne": "Endring mot i fjor opph."}]}, "mark": {"type": "text", "align": "right", "color": "#666666"},
         "encoding": {"x": {"value": "width"}, "y": {"datum": "hdr", "type": "nominal", "scale": {"domain": ["hdr","","Klinikk for somatikk Arendal","Klinikk for somatikk Flekkefjord","Klinikk for somatikk Kristiansand","Totalt"], "range": [4.8, 115.2], "paddingInner": 0, "paddingOuter": 0}, "axis": null}, "text": {"field": "kolonne"}}},
        {"data": {"name": "dag"}, "transform": [{"filter": "isValid(datum.endring) && datum.klinikk !== 'Totalt'"}], "mark": {"type": "text", "align": "right", "color": "#595959"},
         "encoding": {"x": {"value": "width"}, "y": {"field": "klinikk", "type": "nominal", "scale": {"domain": ["hdr","","Klinikk for somatikk Arendal","Klinikk for somatikk Flekkefjord","Klinikk for somatikk Kristiansand","Totalt"], "range": [4.8, 115.2], "paddingInner": 0, "paddingOuter": 0}, "axis": null}, "text": {"field": "endring", "format": "d"}}},
        {"data": {"name": "dag"}, "transform": [{"filter": "isValid(datum.endring) && datum.klinikk === 'Totalt'"}], "mark": {"type": "text", "align": "right", "fontWeight": "bold", "color": "#333333"},
         "encoding": {"x": {"value": "width"}, "y": {"field": "klinikk", "type": "nominal", "scale": {"domain": ["hdr","","Klinikk for somatikk Arendal","Klinikk for somatikk Flekkefjord","Klinikk for somatikk Kristiansand","Totalt"], "range": [4.8, 115.2], "paddingInner": 0, "paddingOuter": 0}, "axis": null}, "text": {"field": "endring", "format": "d"}}},
        {"data": {"values": [{}]}, "mark": {"type": "rule", "color": "#d0d0d0"},
         "encoding": {"y": {"datum": "hdr", "type": "nominal", "bandPosition": 1, "scale": {"domain": ["hdr","","Klinikk for somatikk Arendal","Klinikk for somatikk Flekkefjord","Klinikk for somatikk Kristiansand","Totalt"], "range": [4.8, 115.2], "paddingInner": 0, "paddingOuter": 0}, "axis": null}}},
        {"data": {"values": [{}]}, "mark": {"type": "rule", "color": "#2b2b2b", "strokeWidth": 1.5}, "encoding": {"y": {"value": "height"}}}
      ]},
      {"width": 173, "height": 141, "layer": [
        {"data": {"values": [{"kolonne": "Endring mot i fjor opph.%"}]}, "mark": {"type": "text", "align": "right", "color": "#666666"},
         "encoding": {"x": {"value": "width"}, "y": {"datum": "hdr", "type": "nominal", "scale": {"domain": ["hdr","","Klinikk for somatikk Arendal","Klinikk for somatikk Flekkefjord","Klinikk for somatikk Kristiansand","Totalt"], "range": [4.8, 115.2], "paddingInner": 0, "paddingOuter": 0}, "axis": null}, "text": {"field": "kolonne"}}},
        {"data": {"name": "dag"}, "transform": [{"filter": "isValid(datum.endringPst) && datum.klinikk !== 'Totalt'"}], "mark": {"type": "text", "align": "right", "color": "#595959"},
         "encoding": {"x": {"value": "width"}, "y": {"field": "klinikk", "type": "nominal", "scale": {"domain": ["hdr","","Klinikk for somatikk Arendal","Klinikk for somatikk Flekkefjord","Klinikk for somatikk Kristiansand","Totalt"], "range": [4.8, 115.2], "paddingInner": 0, "paddingOuter": 0}, "axis": null}, "text": {"field": "endringPst", "format": "$.1f"}}},
        {"data": {"name": "dag"}, "transform": [{"filter": "isValid(datum.endringPst) && datum.klinikk === 'Totalt'"}], "mark": {"type": "text", "align": "right", "fontWeight": "bold", "color": "#333333"},
         "encoding": {"x": {"value": "width"}, "y": {"field": "klinikk", "type": "nominal", "scale": {"domain": ["hdr","","Klinikk for somatikk Arendal","Klinikk for somatikk Flekkefjord","Klinikk for somatikk Kristiansand","Totalt"], "range": [4.8, 115.2], "paddingInner": 0, "paddingOuter": 0}, "axis": null}, "text": {"field": "endringPst", "format": "$.1f"}}},
        {"data": {"values": [{}]}, "mark": {"type": "rule", "color": "#d0d0d0"},
         "encoding": {"y": {"datum": "hdr", "type": "nominal", "bandPosition": 1, "scale": {"domain": ["hdr","","Klinikk for somatikk Arendal","Klinikk for somatikk Flekkefjord","Klinikk for somatikk Kristiansand","Totalt"], "range": [4.8, 115.2], "paddingInner": 0, "paddingOuter": 0}, "axis": null}}},
        {"data": {"values": [{}]}, "mark": {"type": "rule", "color": "#2b2b2b", "strokeWidth": 1.5}, "encoding": {"y": {"value": "height"}}}
      ]},
      {"width": 6, "height": 141, "layer": [
        {"data": {"values": [{}]}, "mark": {"type": "rule", "color": "#d0d0d0"},
         "encoding": {"y": {"datum": "hdr", "type": "nominal", "bandPosition": 1, "scale": {"domain": ["hdr","","Klinikk for somatikk Arendal","Klinikk for somatikk Flekkefjord","Klinikk for somatikk Kristiansand","Totalt"], "range": [4.8, 115.2], "paddingInner": 0, "paddingOuter": 0}, "axis": null}}},
        {"data": {"values": [{}]}, "mark": {"type": "rule", "color": "#2b2b2b", "strokeWidth": 1.5}, "encoding": {"y": {"value": "height"}}}
      ]},
      {"width": 22, "height": 141, "layer": [
        {"data": {"values": [{}]}, "mark": {"type": "rule", "color": "#2b2b2b", "strokeWidth": 1.5}, "encoding": {"y": {"value": "height"}}},
        {"data": {"values": [{}]}, "mark": {"type": "rule", "color": "#2b2b2b", "strokeWidth": 1.5}, "encoding": {"x": {"value": "width"}, "y": {"value": 0}, "y2": {"value": "height"}}}
      ]}
    ]}
  ]
},
{
  "spacing": 0,
  "vconcat": [
    {"width": 1016, "height": 32, "view": {"fill": "#1d4a8c", "stroke": "#2b2b2b", "strokeWidth": 1.5},
     "data": {"values": [{"tittel": "Poliklinikk"}]},
     "mark": {"type": "text", "color": "white", "fontSize": 22},
     "encoding": {"text": {"field": "tittel"}}},
    {"spacing": 0, "bounds": "flush", "hconcat": [
      {"width": 7, "height": 175, "layer": [
        {"data": {"values": [{}]}, "mark": {"type": "rule", "color": "#2b2b2b", "strokeWidth": 1.5}, "encoding": {"x": {"value": 0}, "y": {"value": 0}, "y2": {"value": "height"}}},
        {"data": {"values": [{}]}, "mark": {"type": "rule", "color": "#2b2b2b", "strokeWidth": 1.5}, "encoding": {"y": {"value": "height"}}}
      ]},
      {"width": 212, "height": 175, "layer": [
        {"data": {"values": [{"kolonne": "Klinikk"}]}, "mark": {"type": "text", "align": "left", "dx": 12, "color": "#666666"},
         "encoding": {"x": {"value": 0}, "y": {"datum": "hdr", "type": "nominal", "scale": {"domain": ["hdr","Felles","Klinikk for psykisk helse","Klinikk for somatikk Arendal","Klinikk for somatikk Flekkefjord","Klinikk for somatikk Kristiansand","Medisinsk serviceklinikk","Totalt"], "range": [5.8, 153.2], "paddingInner": 0, "paddingOuter": 0}, "axis": null}, "text": {"field": "kolonne"}}},
        {"data": {"name": "poli"}, "transform": [{"filter": "datum.klinikk !== 'Totalt'"}], "mark": {"type": "text", "align": "left", "dx": 12, "color": "#595959"},
         "encoding": {"x": {"value": 0}, "y": {"field": "klinikk", "type": "nominal", "scale": {"domain": ["hdr","Felles","Klinikk for psykisk helse","Klinikk for somatikk Arendal","Klinikk for somatikk Flekkefjord","Klinikk for somatikk Kristiansand","Medisinsk serviceklinikk","Totalt"], "range": [5.8, 153.2], "paddingInner": 0, "paddingOuter": 0}, "axis": null}, "text": {"field": "klinikk"}}},
        {"data": {"name": "poli"}, "transform": [{"filter": "datum.klinikk === 'Totalt'"}], "mark": {"type": "text", "align": "left", "dx": 6, "fontWeight": "bold", "color": "#333333"},
         "encoding": {"x": {"value": 0}, "y": {"field": "klinikk", "type": "nominal", "scale": {"domain": ["hdr","Felles","Klinikk for psykisk helse","Klinikk for somatikk Arendal","Klinikk for somatikk Flekkefjord","Klinikk for somatikk Kristiansand","Medisinsk serviceklinikk","Totalt"], "range": [5.8, 153.2], "paddingInner": 0, "paddingOuter": 0}, "axis": null}, "text": {"field": "klinikk"}}},
        {"data": {"values": [{}]}, "mark": {"type": "rule", "color": "#d0d0d0"},
         "encoding": {"y": {"datum": "hdr", "type": "nominal", "bandPosition": 1, "scale": {"domain": ["hdr","Felles","Klinikk for psykisk helse","Klinikk for somatikk Arendal","Klinikk for somatikk Flekkefjord","Klinikk for somatikk Kristiansand","Medisinsk serviceklinikk","Totalt"], "range": [5.8, 153.2], "paddingInner": 0, "paddingOuter": 0}, "axis": null}}},
        {"data": {"values": [{}]}, "mark": {"type": "rule", "color": "#dcdcdc"},
         "encoding": {"x": {"value": "width"}, "y": {"datum": "hdr", "type": "nominal", "bandPosition": 1, "scale": {"domain": ["hdr","Felles","Klinikk for psykisk helse","Klinikk for somatikk Arendal","Klinikk for somatikk Flekkefjord","Klinikk for somatikk Kristiansand","Medisinsk serviceklinikk","Totalt"], "range": [5.8, 153.2], "paddingInner": 0, "paddingOuter": 0}, "axis": null}, "y2": {"datum": "Totalt", "bandPosition": 1}}},
        {"data": {"values": [{}]}, "mark": {"type": "rule", "color": "#2b2b2b", "strokeWidth": 1.5}, "encoding": {"y": {"value": "height"}}}
      ]},
      {"width": 93, "height": 175, "layer": [
        {"data": {"values": [{"kolonne": "Faktisk opph."}]}, "mark": {"type": "text", "align": "right", "color": "#666666"},
         "encoding": {"x": {"value": "width"}, "y": {"datum": "hdr", "type": "nominal", "scale": {"domain": ["hdr","Felles","Klinikk for psykisk helse","Klinikk for somatikk Arendal","Klinikk for somatikk Flekkefjord","Klinikk for somatikk Kristiansand","Medisinsk serviceklinikk","Totalt"], "range": [5.8, 153.2], "paddingInner": 0, "paddingOuter": 0}, "axis": null}, "text": {"field": "kolonne"}}},
        {"data": {"name": "poli"}, "transform": [{"filter": "isValid(datum.faktisk) && datum.klinikk !== 'Totalt'"}], "mark": {"type": "text", "align": "right", "color": "#595959"},
         "encoding": {"x": {"value": "width"}, "y": {"field": "klinikk", "type": "nominal", "scale": {"domain": ["hdr","Felles","Klinikk for psykisk helse","Klinikk for somatikk Arendal","Klinikk for somatikk Flekkefjord","Klinikk for somatikk Kristiansand","Medisinsk serviceklinikk","Totalt"], "range": [5.8, 153.2], "paddingInner": 0, "paddingOuter": 0}, "axis": null}, "text": {"field": "faktisk", "format": ",d"}}},
        {"data": {"name": "poli"}, "transform": [{"filter": "isValid(datum.faktisk) && datum.klinikk === 'Totalt'"}], "mark": {"type": "text", "align": "right", "fontWeight": "bold", "color": "#333333"},
         "encoding": {"x": {"value": "width"}, "y": {"field": "klinikk", "type": "nominal", "scale": {"domain": ["hdr","Felles","Klinikk for psykisk helse","Klinikk for somatikk Arendal","Klinikk for somatikk Flekkefjord","Klinikk for somatikk Kristiansand","Medisinsk serviceklinikk","Totalt"], "range": [5.8, 153.2], "paddingInner": 0, "paddingOuter": 0}, "axis": null}, "text": {"field": "faktisk", "format": ",d"}}},
        {"data": {"values": [{}]}, "mark": {"type": "rule", "color": "#d0d0d0"},
         "encoding": {"y": {"datum": "hdr", "type": "nominal", "bandPosition": 1, "scale": {"domain": ["hdr","Felles","Klinikk for psykisk helse","Klinikk for somatikk Arendal","Klinikk for somatikk Flekkefjord","Klinikk for somatikk Kristiansand","Medisinsk serviceklinikk","Totalt"], "range": [5.8, 153.2], "paddingInner": 0, "paddingOuter": 0}, "axis": null}}},
        {"data": {"values": [{}]}, "mark": {"type": "rule", "color": "#2b2b2b", "strokeWidth": 1.5}, "encoding": {"y": {"value": "height"}}}
      ]},
      {"width": 105, "height": 175, "layer": [
        {"data": {"values": [{"kolonne": "Budsjett opph."}]}, "mark": {"type": "text", "align": "right", "color": "#666666"},
         "encoding": {"x": {"value": "width"}, "y": {"datum": "hdr", "type": "nominal", "scale": {"domain": ["hdr","Felles","Klinikk for psykisk helse","Klinikk for somatikk Arendal","Klinikk for somatikk Flekkefjord","Klinikk for somatikk Kristiansand","Medisinsk serviceklinikk","Totalt"], "range": [5.8, 153.2], "paddingInner": 0, "paddingOuter": 0}, "axis": null}, "text": {"field": "kolonne"}}},
        {"data": {"name": "poli"}, "transform": [{"filter": "isValid(datum.budsjett) && datum.klinikk !== 'Totalt'"}], "mark": {"type": "text", "align": "right", "color": "#595959"},
         "encoding": {"x": {"value": "width"}, "y": {"field": "klinikk", "type": "nominal", "scale": {"domain": ["hdr","Felles","Klinikk for psykisk helse","Klinikk for somatikk Arendal","Klinikk for somatikk Flekkefjord","Klinikk for somatikk Kristiansand","Medisinsk serviceklinikk","Totalt"], "range": [5.8, 153.2], "paddingInner": 0, "paddingOuter": 0}, "axis": null}, "text": {"field": "budsjett", "format": ",d"}}},
        {"data": {"name": "poli"}, "transform": [{"filter": "isValid(datum.budsjett) && datum.klinikk === 'Totalt'"}], "mark": {"type": "text", "align": "right", "fontWeight": "bold", "color": "#333333"},
         "encoding": {"x": {"value": "width"}, "y": {"field": "klinikk", "type": "nominal", "scale": {"domain": ["hdr","Felles","Klinikk for psykisk helse","Klinikk for somatikk Arendal","Klinikk for somatikk Flekkefjord","Klinikk for somatikk Kristiansand","Medisinsk serviceklinikk","Totalt"], "range": [5.8, 153.2], "paddingInner": 0, "paddingOuter": 0}, "axis": null}, "text": {"field": "budsjett", "format": ",d"}}},
        {"data": {"values": [{}]}, "mark": {"type": "rule", "color": "#d0d0d0"},
         "encoding": {"y": {"datum": "hdr", "type": "nominal", "bandPosition": 1, "scale": {"domain": ["hdr","Felles","Klinikk for psykisk helse","Klinikk for somatikk Arendal","Klinikk for somatikk Flekkefjord","Klinikk for somatikk Kristiansand","Medisinsk serviceklinikk","Totalt"], "range": [5.8, 153.2], "paddingInner": 0, "paddingOuter": 0}, "axis": null}}},
        {"data": {"values": [{}]}, "mark": {"type": "rule", "color": "#2b2b2b", "strokeWidth": 1.5}, "encoding": {"y": {"value": "height"}}}
      ]},
      {"width": 113, "height": 175, "layer": [
        {"data": {"values": [{"kolonne": "Bud.avvik opph."}]}, "mark": {"type": "text", "align": "right", "color": "#666666"},
         "encoding": {"x": {"value": "width"}, "y": {"datum": "hdr", "type": "nominal", "scale": {"domain": ["hdr","Felles","Klinikk for psykisk helse","Klinikk for somatikk Arendal","Klinikk for somatikk Flekkefjord","Klinikk for somatikk Kristiansand","Medisinsk serviceklinikk","Totalt"], "range": [5.8, 153.2], "paddingInner": 0, "paddingOuter": 0}, "axis": null}, "text": {"field": "kolonne"}}},
        {"data": {"name": "poli"}, "transform": [{"filter": "isValid(datum.avvik) && datum.klinikk !== 'Totalt'"}], "mark": {"type": "text", "align": "right", "color": "#595959"},
         "encoding": {"x": {"value": "width"}, "y": {"field": "klinikk", "type": "nominal", "scale": {"domain": ["hdr","Felles","Klinikk for psykisk helse","Klinikk for somatikk Arendal","Klinikk for somatikk Flekkefjord","Klinikk for somatikk Kristiansand","Medisinsk serviceklinikk","Totalt"], "range": [5.8, 153.2], "paddingInner": 0, "paddingOuter": 0}, "axis": null}, "text": {"field": "avvik", "format": ",d"}}},
        {"data": {"name": "poli"}, "transform": [{"filter": "isValid(datum.avvik) && datum.klinikk === 'Totalt'"}], "mark": {"type": "text", "align": "right", "fontWeight": "bold", "color": "#333333"},
         "encoding": {"x": {"value": "width"}, "y": {"field": "klinikk", "type": "nominal", "scale": {"domain": ["hdr","Felles","Klinikk for psykisk helse","Klinikk for somatikk Arendal","Klinikk for somatikk Flekkefjord","Klinikk for somatikk Kristiansand","Medisinsk serviceklinikk","Totalt"], "range": [5.8, 153.2], "paddingInner": 0, "paddingOuter": 0}, "axis": null}, "text": {"field": "avvik", "format": ",d"}}},
        {"data": {"values": [{}]}, "mark": {"type": "rule", "color": "#d0d0d0"},
         "encoding": {"y": {"datum": "hdr", "type": "nominal", "bandPosition": 1, "scale": {"domain": ["hdr","Felles","Klinikk for psykisk helse","Klinikk for somatikk Arendal","Klinikk for somatikk Flekkefjord","Klinikk for somatikk Kristiansand","Medisinsk serviceklinikk","Totalt"], "range": [5.8, 153.2], "paddingInner": 0, "paddingOuter": 0}, "axis": null}}},
        {"data": {"values": [{}]}, "mark": {"type": "rule", "color": "#2b2b2b", "strokeWidth": 1.5}, "encoding": {"y": {"value": "height"}}}
      ]},
      {"width": 123, "height": 175, "layer": [
        {"data": {"values": [{"kolonne": "Bud.avvik opph...."}]}, "mark": {"type": "text", "align": "right", "color": "#666666"},
         "encoding": {"x": {"value": "width"}, "y": {"datum": "hdr", "type": "nominal", "scale": {"domain": ["hdr","Felles","Klinikk for psykisk helse","Klinikk for somatikk Arendal","Klinikk for somatikk Flekkefjord","Klinikk for somatikk Kristiansand","Medisinsk serviceklinikk","Totalt"], "range": [5.8, 153.2], "paddingInner": 0, "paddingOuter": 0}, "axis": null}, "text": {"field": "kolonne"}}},
        {"data": {"name": "poli"}, "transform": [{"filter": "isValid(datum.avvikPst) && datum.klinikk !== 'Totalt'"}], "mark": {"type": "text", "align": "right", "color": "#595959"},
         "encoding": {"x": {"value": "width"}, "y": {"field": "klinikk", "type": "nominal", "scale": {"domain": ["hdr","Felles","Klinikk for psykisk helse","Klinikk for somatikk Arendal","Klinikk for somatikk Flekkefjord","Klinikk for somatikk Kristiansand","Medisinsk serviceklinikk","Totalt"], "range": [5.8, 153.2], "paddingInner": 0, "paddingOuter": 0}, "axis": null}, "text": {"field": "avvikPst", "format": "$.1f"}}},
        {"data": {"name": "poli"}, "transform": [{"filter": "isValid(datum.avvikPst) && datum.klinikk === 'Totalt'"}], "mark": {"type": "text", "align": "right", "fontWeight": "bold", "color": "#333333"},
         "encoding": {"x": {"value": "width"}, "y": {"field": "klinikk", "type": "nominal", "scale": {"domain": ["hdr","Felles","Klinikk for psykisk helse","Klinikk for somatikk Arendal","Klinikk for somatikk Flekkefjord","Klinikk for somatikk Kristiansand","Medisinsk serviceklinikk","Totalt"], "range": [5.8, 153.2], "paddingInner": 0, "paddingOuter": 0}, "axis": null}, "text": {"field": "avvikPst", "format": "$.1f"}}},
        {"data": {"values": [{}]}, "mark": {"type": "rule", "color": "#d0d0d0"},
         "encoding": {"y": {"datum": "hdr", "type": "nominal", "bandPosition": 1, "scale": {"domain": ["hdr","Felles","Klinikk for psykisk helse","Klinikk for somatikk Arendal","Klinikk for somatikk Flekkefjord","Klinikk for somatikk Kristiansand","Medisinsk serviceklinikk","Totalt"], "range": [5.8, 153.2], "paddingInner": 0, "paddingOuter": 0}, "axis": null}}},
        {"data": {"values": [{}]}, "mark": {"type": "rule", "color": "#2b2b2b", "strokeWidth": 1.5}, "encoding": {"y": {"value": "height"}}}
      ]},
      {"width": 162, "height": 175, "layer": [
        {"data": {"values": [{"kolonne": "Endring mot i fjor opph."}]}, "mark": {"type": "text", "align": "right", "color": "#666666"},
         "encoding": {"x": {"value": "width"}, "y": {"datum": "hdr", "type": "nominal", "scale": {"domain": ["hdr","Felles","Klinikk for psykisk helse","Klinikk for somatikk Arendal","Klinikk for somatikk Flekkefjord","Klinikk for somatikk Kristiansand","Medisinsk serviceklinikk","Totalt"], "range": [5.8, 153.2], "paddingInner": 0, "paddingOuter": 0}, "axis": null}, "text": {"field": "kolonne"}}},
        {"data": {"name": "poli"}, "transform": [{"filter": "isValid(datum.endring) && datum.klinikk !== 'Totalt'"}], "mark": {"type": "text", "align": "right", "color": "#595959"},
         "encoding": {"x": {"value": "width"}, "y": {"field": "klinikk", "type": "nominal", "scale": {"domain": ["hdr","Felles","Klinikk for psykisk helse","Klinikk for somatikk Arendal","Klinikk for somatikk Flekkefjord","Klinikk for somatikk Kristiansand","Medisinsk serviceklinikk","Totalt"], "range": [5.8, 153.2], "paddingInner": 0, "paddingOuter": 0}, "axis": null}, "text": {"field": "endring", "format": "d"}}},
        {"data": {"name": "poli"}, "transform": [{"filter": "isValid(datum.endring) && datum.klinikk === 'Totalt'"}], "mark": {"type": "text", "align": "right", "fontWeight": "bold", "color": "#333333"},
         "encoding": {"x": {"value": "width"}, "y": {"field": "klinikk", "type": "nominal", "scale": {"domain": ["hdr","Felles","Klinikk for psykisk helse","Klinikk for somatikk Arendal","Klinikk for somatikk Flekkefjord","Klinikk for somatikk Kristiansand","Medisinsk serviceklinikk","Totalt"], "range": [5.8, 153.2], "paddingInner": 0, "paddingOuter": 0}, "axis": null}, "text": {"field": "endring", "format": "d"}}},
        {"data": {"values": [{}]}, "mark": {"type": "rule", "color": "#d0d0d0"},
         "encoding": {"y": {"datum": "hdr", "type": "nominal", "bandPosition": 1, "scale": {"domain": ["hdr","Felles","Klinikk for psykisk helse","Klinikk for somatikk Arendal","Klinikk for somatikk Flekkefjord","Klinikk for somatikk Kristiansand","Medisinsk serviceklinikk","Totalt"], "range": [5.8, 153.2], "paddingInner": 0, "paddingOuter": 0}, "axis": null}}},
        {"data": {"values": [{}]}, "mark": {"type": "rule", "color": "#2b2b2b", "strokeWidth": 1.5}, "encoding": {"y": {"value": "height"}}}
      ]},
      {"width": 173, "height": 175, "layer": [
        {"data": {"values": [{"kolonne": "Endring mot i fjor opph.%"}]}, "mark": {"type": "text", "align": "right", "color": "#666666"},
         "encoding": {"x": {"value": "width"}, "y": {"datum": "hdr", "type": "nominal", "scale": {"domain": ["hdr","Felles","Klinikk for psykisk helse","Klinikk for somatikk Arendal","Klinikk for somatikk Flekkefjord","Klinikk for somatikk Kristiansand","Medisinsk serviceklinikk","Totalt"], "range": [5.8, 153.2], "paddingInner": 0, "paddingOuter": 0}, "axis": null}, "text": {"field": "kolonne"}}},
        {"data": {"name": "poli"}, "transform": [{"filter": "isValid(datum.endringPst) && datum.klinikk !== 'Totalt'"}], "mark": {"type": "text", "align": "right", "color": "#595959"},
         "encoding": {"x": {"value": "width"}, "y": {"field": "klinikk", "type": "nominal", "scale": {"domain": ["hdr","Felles","Klinikk for psykisk helse","Klinikk for somatikk Arendal","Klinikk for somatikk Flekkefjord","Klinikk for somatikk Kristiansand","Medisinsk serviceklinikk","Totalt"], "range": [5.8, 153.2], "paddingInner": 0, "paddingOuter": 0}, "axis": null}, "text": {"field": "endringPst", "format": "$.1f"}}},
        {"data": {"name": "poli"}, "transform": [{"filter": "isValid(datum.endringPst) && datum.klinikk === 'Totalt'"}], "mark": {"type": "text", "align": "right", "fontWeight": "bold", "color": "#333333"},
         "encoding": {"x": {"value": "width"}, "y": {"field": "klinikk", "type": "nominal", "scale": {"domain": ["hdr","Felles","Klinikk for psykisk helse","Klinikk for somatikk Arendal","Klinikk for somatikk Flekkefjord","Klinikk for somatikk Kristiansand","Medisinsk serviceklinikk","Totalt"], "range": [5.8, 153.2], "paddingInner": 0, "paddingOuter": 0}, "axis": null}, "text": {"field": "endringPst", "format": "$.1f"}}},
        {"data": {"values": [{}]}, "mark": {"type": "rule", "color": "#d0d0d0"},
         "encoding": {"y": {"datum": "hdr", "type": "nominal", "bandPosition": 1, "scale": {"domain": ["hdr","Felles","Klinikk for psykisk helse","Klinikk for somatikk Arendal","Klinikk for somatikk Flekkefjord","Klinikk for somatikk Kristiansand","Medisinsk serviceklinikk","Totalt"], "range": [5.8, 153.2], "paddingInner": 0, "paddingOuter": 0}, "axis": null}}},
        {"data": {"values": [{}]}, "mark": {"type": "rule", "color": "#2b2b2b", "strokeWidth": 1.5}, "encoding": {"y": {"value": "height"}}}
      ]},
      {"width": 6, "height": 175, "layer": [
        {"data": {"values": [{}]}, "mark": {"type": "rule", "color": "#d0d0d0"},
         "encoding": {"y": {"datum": "hdr", "type": "nominal", "bandPosition": 1, "scale": {"domain": ["hdr","Felles","Klinikk for psykisk helse","Klinikk for somatikk Arendal","Klinikk for somatikk Flekkefjord","Klinikk for somatikk Kristiansand","Medisinsk serviceklinikk","Totalt"], "range": [5.8, 153.2], "paddingInner": 0, "paddingOuter": 0}, "axis": null}}},
        {"data": {"values": [{}]}, "mark": {"type": "rule", "color": "#2b2b2b", "strokeWidth": 1.5}, "encoding": {"y": {"value": "height"}}}
      ]},
      {"width": 22, "height": 175, "layer": [
        {"data": {"values": [{}]}, "mark": {"type": "rule", "color": "#2b2b2b", "strokeWidth": 1.5}, "encoding": {"y": {"value": "height"}}},
        {"data": {"values": [{}]}, "mark": {"type": "rule", "color": "#2b2b2b", "strokeWidth": 1.5}, "encoding": {"x": {"value": "width"}, "y": {"value": 0}, "y2": {"value": "height"}}}
      ]}
    ]}
  ]
}
 ]
}
]
}
